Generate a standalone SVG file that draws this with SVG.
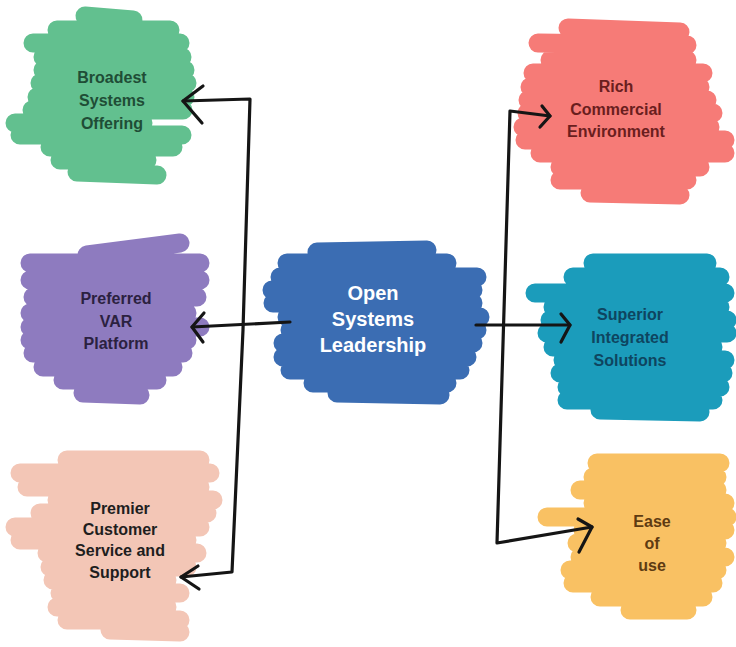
<svg xmlns="http://www.w3.org/2000/svg" width="736" height="647" viewBox="0 0 736 647">
<style>
.b{fill:none;stroke-linecap:round;stroke-linejoin:round;stroke-width:19}
.g{stroke:#62c08f}.r{stroke:#f67b77}.bl{stroke:#3b6db3}.p{stroke:#8e7bbf}.pc{stroke:#f3c6b6}.t{stroke:#1b9cbb}.y{stroke:#f9c163}
text{font-family:"Liberation Sans",Arial,sans-serif;font-weight:bold;font-size:16px;text-anchor:middle}
.c{fill:none;stroke:#151515;stroke-width:3.2;stroke-linecap:round;stroke-linejoin:round}
</style>
<rect width="736" height="647" fill="#ffffff"/>
<g id="broadest">
<path class="b g" d="M85,16L133,20M57,30L170,30M33,43L180,43M43,57L182,57M43,70L185,70M40,83L187,83M37,97L185,97M32,110L183,110M15,123L143,123M20,135L182,135M50,147L173,147M60,160L147,160M77,172L157,175"/>
<text fill="#1f4d36" x="112" y="83">Broadest</text>
<text fill="#1f4d36" x="112" y="106">Systems</text>
<text fill="#1f4d36" x="112" y="129">Offering</text>
</g>
<g id="rich">
<path class="b r" d="M568,28L680,32M538,43L687,45M550,60L687,60M533,73L703,73M530,87L700,87M528,100L707,100M527,113L713,113M523,127L710,127M525,140L725,140M540,153L725,153M560,167L700,167M560,180L687,180M590,193L680,195"/>
<text fill="#6a1e1e" x="616" y="92">Rich</text>
<text fill="#6a1e1e" x="616" y="115">Commercial</text>
<text fill="#6a1e1e" x="616" y="137">Environment</text>
</g>
<g id="open">
<path class="b bl" d="M317,252L427,250M287,263L447,263M280,277L477,277M272,290L473,290M273,303L473,303M287,317L480,317M290,330L477,330M283,343L473,343M283,357L467,357M290,370L460,370M313,383L447,383M337,393L440,395"/>
<text fill="#ffffff" x="373" y="300" style="font-size:20px">Open</text>
<text fill="#ffffff" x="373" y="326" style="font-size:20px">Systems</text>
<text fill="#ffffff" x="373" y="352" style="font-size:20px">Leadership</text>
</g>
<g id="preferred">
<path class="b p" d="M87,255L180,243M30,263L200,263M30,280L200,280M33,297L197,297M30,313L187,313M30,327L200,327M30,340L187,340M33,353L183,353M43,367L173,367M63,380L157,380M83,393L140,395"/>
<text fill="#2b2140" x="116" y="304">Preferred</text>
<text fill="#2b2140" x="116" y="327">VAR</text>
<text fill="#2b2140" x="116" y="349">Platform</text>
</g>
<g id="premier">
<path class="b pc" d="M67,460L200,460M20,473L210,473M27,487L200,487M57,500L213,500M40,513L207,513M15,527L200,527M20,540L187,540M47,553L197,553M50,567L187,567M53,580L167,580M60,593L180,593M57,607L167,607M67,620L180,620M110,630L180,632"/>
<text fill="#1e1e1e" x="120" y="514">Premier</text>
<text fill="#1e1e1e" x="120" y="535">Customer</text>
<text fill="#1e1e1e" x="120" y="556">Service and</text>
<text fill="#1e1e1e" x="120" y="578">Support</text>
</g>
<g id="superior">
<path class="b t" d="M593,263L707,263M573,277L720,277M535,293L725,293M553,307L720,307M550,320L727,320M547,333L727,333M553,347L713,347M563,360L725,360M560,373L723,373M567,387L720,387M567,400L713,400M600,410L700,412"/>
<text fill="#0e4560" x="630" y="320">Superior</text>
<text fill="#0e4560" x="630" y="343">Integrated</text>
<text fill="#0e4560" x="630" y="366">Solutions</text>
</g>
<g id="ease">
<path class="b y" d="M597,463L720,463M593,477L717,477M580,490L717,490M593,503L725,503M547,517L727,517M583,530L725,530M577,543L717,543M580,557L725,557M570,570L717,570M573,583L713,583M600,597L703,597M630,610L687,610"/>
<text fill="#5e3b12" x="652" y="527">Ease</text>
<text fill="#5e3b12" x="652" y="549">of</text>
<text fill="#5e3b12" x="652" y="571">use</text>
</g>
<g id="connectors">
<path class="c" d="M183,101L250,99L243,330L232,572L181,577"/>
<path class="c" d="M290,322L192,327"/>
<path class="c" d="M203,86L183,101L202,123"/>
<path class="c" d="M204,313L192,327L203,342"/>
<path class="c" d="M198,566L181,577L199,589"/>
<path class="c" d="M550,116L510,111L497,543L592,527"/>
<path class="c" d="M476,325L570,325"/>
<path class="c" d="M542,106L550,116L540,127"/>
<path class="c" d="M561,314L570,325L561,342"/>
<path class="c" d="M578,519L592,527L579,552"/>
</g>
</svg>
